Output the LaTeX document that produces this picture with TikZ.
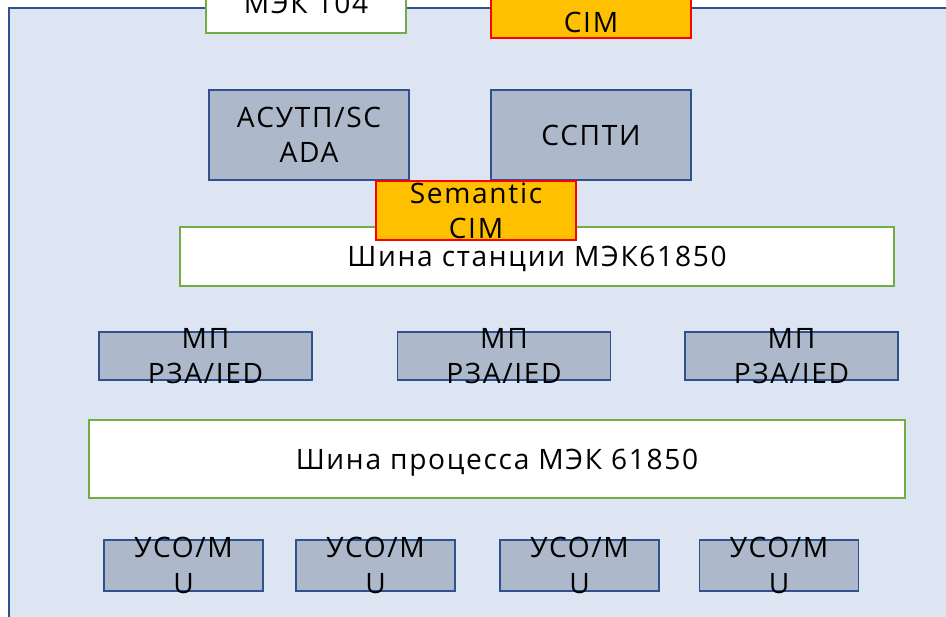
\documentclass[tikz,border=0pt]{standalone}
\usepackage{fontspec}
\setmainfont[LetterSpace=6]{Open Sans}
\usepackage{xcolor}
\usepackage{tikz}

\definecolor{panelblue}{HTML}{DEE5F2}
\definecolor{edgeblue}{HTML}{2F528F}
\definecolor{unitgray}{HTML}{ADB9CA}
\definecolor{busgreen}{HTML}{70AD47}
\definecolor{cimorange}{HTML}{FFC000}

\begin{document}
\begin{tikzpicture}
        % Define styles
        \tikzset{
            unit/.style={rectangle, draw=edgeblue, line width=0.75pt, fill=unitgray, inner sep=0pt},
            bus/.style={rectangle, draw=busgreen, line width=1.5pt, fill=white, inner sep=0pt, text depth=0pt},
            cim/.style={rectangle, draw=red, line width=1.5pt, fill=cimorange, inner sep=0pt},
            txt/.style={align=center, font=\fontsize{16}{20}\selectfont}
        }
        \useasboundingbox (0,0) rectangle (18.92,-12.32);
        \clip (0,0) rectangle (18.92,-12.32);

        % Substation panel
        \draw[edgeblue, line width=1.5pt, fill=panelblue] (0.18,-0.16) rectangle (19.4,-12.8);

        % Upper level
        \node[bus, txt, minimum width=4cm, minimum height=1.18cm] (iec_104) at (6.12,-0.07) {МЭК 104};
        \node[cim, minimum width=4cm, minimum height=1.34cm, label={[txt]center:{Semantic\\CIM}}] (cim_top) at (11.82,-0.09) {};
        \node[unit, txt, minimum width=4cm, minimum height=1.8cm] (scada) at (6.18,-2.7) {АСУТП/SC\\ADA};
        \node[unit, txt, minimum width=4cm, minimum height=1.8cm] (sspti) at (11.82,-2.7) {ССПТИ};

        % Station bus
        \node[bus, txt, minimum width=14.28cm, minimum height=1.18cm] (station_bus) at (10.74,-5.13) {Шина станции МЭК61850};
        \node[cim, minimum width=4cm, minimum height=1.18cm, label={[txt]center:{Semantic\\CIM}}] (cim_mid) at (9.52,-4.21) {};

        % Bay level
        \node[unit, minimum width=4.26cm, minimum height=0.96cm, label={[txt]center:{МП\\РЗА/IED}}] (ied_1) at (4.11,-7.12) {};
        \node[unit, minimum width=4.26cm, minimum height=0.96cm, label={[txt]center:{МП\\РЗА/IED}}] (ied_2) at (10.08,-7.12) {};
        \node[unit, minimum width=4.26cm, minimum height=0.96cm, label={[txt]center:{МП\\РЗА/IED}}] (ied_3) at (15.83,-7.12) {};

        % Process bus
        \node[bus, txt, minimum width=16.32cm, minimum height=1.56cm] (process_bus) at (9.94,-9.18) {Шина процесса МЭК 61850};

        % Process level
        \node[unit, minimum width=3.18cm, minimum height=1.02cm, label={[txt]center:{УСО/М\\U}}] (mu_1) at (3.67,-11.31) {};
        \node[unit, minimum width=3.18cm, minimum height=1.02cm, label={[txt]center:{УСО/М\\U}}] (mu_2) at (7.51,-11.31) {};
        \node[unit, minimum width=3.18cm, minimum height=1.02cm, label={[txt]center:{УСО/М\\U}}] (mu_3) at (11.59,-11.31) {};
        \node[unit, minimum width=3.18cm, minimum height=1.02cm, label={[txt]center:{УСО/М\\U}}] (mu_4) at (15.58,-11.31) {};
\end{tikzpicture}
\end{document}
